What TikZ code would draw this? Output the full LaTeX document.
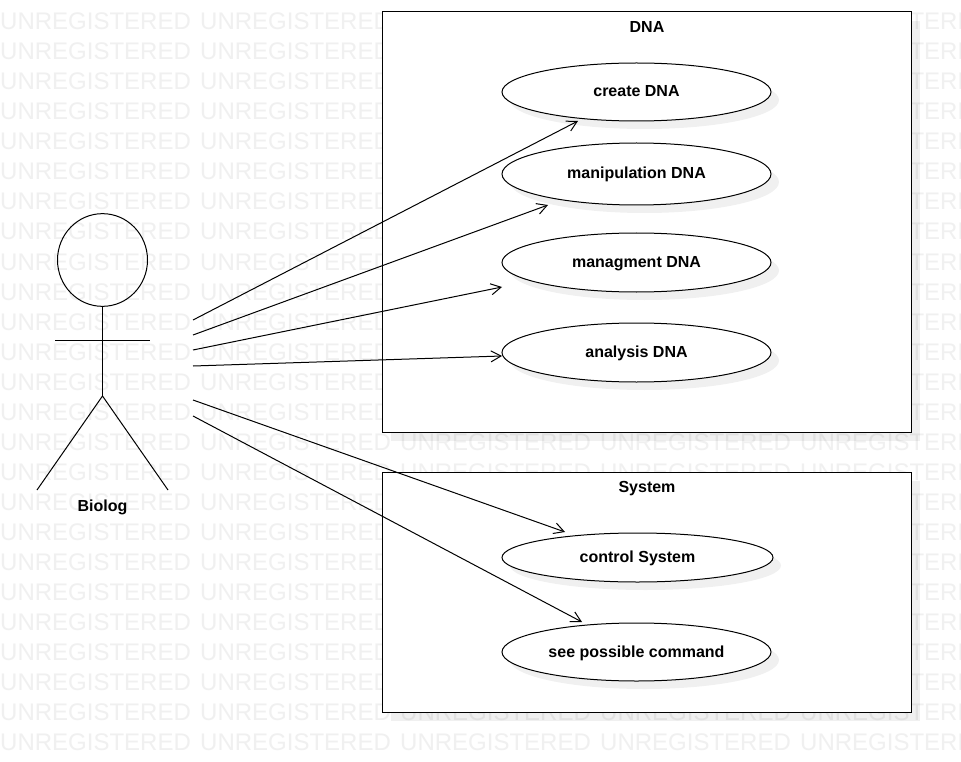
\documentclass[tikz,border=0pt]{standalone}
\usepackage{fontspec}
\setmainfont{Liberation Sans}
\usetikzlibrary{shapes, positioning, arrows.meta, shadows}
\definecolor{markgray}{HTML}{F0F0F0}
\tikzset{
    usecase/.style={draw, ellipse, fill=white, line width=1pt, inner sep=0pt, minimum width=269pt,
        font=\bfseries\fontsize{16}{18}\selectfont, text height=10pt, text depth=0pt,
        drop shadow={shadow xshift=8pt, shadow yshift=-8pt, fill=black, opacity=.06}},
    groupbox/.style={draw, rectangle, fill=white, line width=1pt, inner sep=0pt, minimum width=529pt,
        drop shadow={shadow xshift=9pt, shadow yshift=-9pt, fill=black, opacity=.06}},
    title/.style={font=\bfseries\fontsize{16}{18}\selectfont, text height=10pt, text depth=0pt, inner sep=0pt},
    limb/.style={line width=1pt},
    assoc/.style={-{Straight Barb[length=10pt, width=11pt]}, line width=1pt}
}

\begin{document}
\begin{tikzpicture}[x=1pt, y=-1pt]
    \useasboundingbox (0, 0) rectangle (961, 762);
    \clip (0, 0) rectangle (961, 762);
    \fill[white] (0, 0) rectangle (961, 762);

    % watermark
    \foreach \row in {1, ..., 25}
        \foreach \col in {0, ..., 4}
            \node[anchor=base west, inner sep=0pt, text=markgray, font=\fontsize{24}{24}\selectfont]
                (mark\row-\col) at (200*\col, 30*\row) {UNREGISTERED};

    \node[groupbox, minimum height=420pt] (dnabox) at (646.5, 222) {};
    \node[groupbox, minimum height=240pt] (sysbox) at (646.5, 592) {};
    \node[title] (dnatitle) at (647, 27.5) {DNA};
    \node[title] (systitle) at (647, 487.5) {System};

    \node[usecase, minimum height=58pt] (create) at (636.5, 92) {create DNA};
    \node[usecase, minimum height=62pt] (manip) at (636.5, 174) {manipulation DNA};
    \node[usecase, minimum height=59pt] (manag) at (636.5, 262.5) {managment DNA};
    \node[usecase, minimum height=59pt] (analysis) at (636.5, 352.5) {analysis DNA};
    \node[usecase, minimum height=49pt, minimum width=271pt] (control) at (637.5, 557.5) {control System};
    \node[usecase, minimum height=58pt] (command) at (636.5, 652) {see possible command};

    % actor
    \node[draw, circle, limb, inner sep=0pt, minimum size=90pt, yscale=1.03] (head) at (102.5, 260) {};
    \coordinate (neck) at (102.5, 396);
    \coordinate (armleft) at (55, 340);
    \coordinate (armright) at (150, 340);
    \coordinate (footleft) at (37, 490);
    \coordinate (footright) at (168, 490);
    \draw[limb] (head.south) -- (neck);
    \draw[limb] (armleft) -- (armright);
    \draw[limb] (footleft) -- (neck) -- (footright);
    \node[title] (biolog) at (102.5, 506.5) {Biolog};

    % arrows
    \coordinate (from1) at (193, 320);
    \coordinate (from2) at (193, 335);
    \coordinate (from3) at (193, 350);
    \coordinate (from4) at (193, 366);
    \coordinate (from5) at (193, 400);
    \coordinate (from6) at (193, 416);
    \coordinate (to1) at (578, 121);
    \coordinate (to2) at (548, 205);
    \coordinate (to3) at (502, 287);
    \coordinate (to4) at (502, 356);
    \coordinate (to5) at (565, 532);
    \coordinate (to6) at (582, 622);
    \foreach \i in {1, ..., 6}
        \draw[assoc] (from\i) -- (to\i);
\end{tikzpicture}
\end{document}
